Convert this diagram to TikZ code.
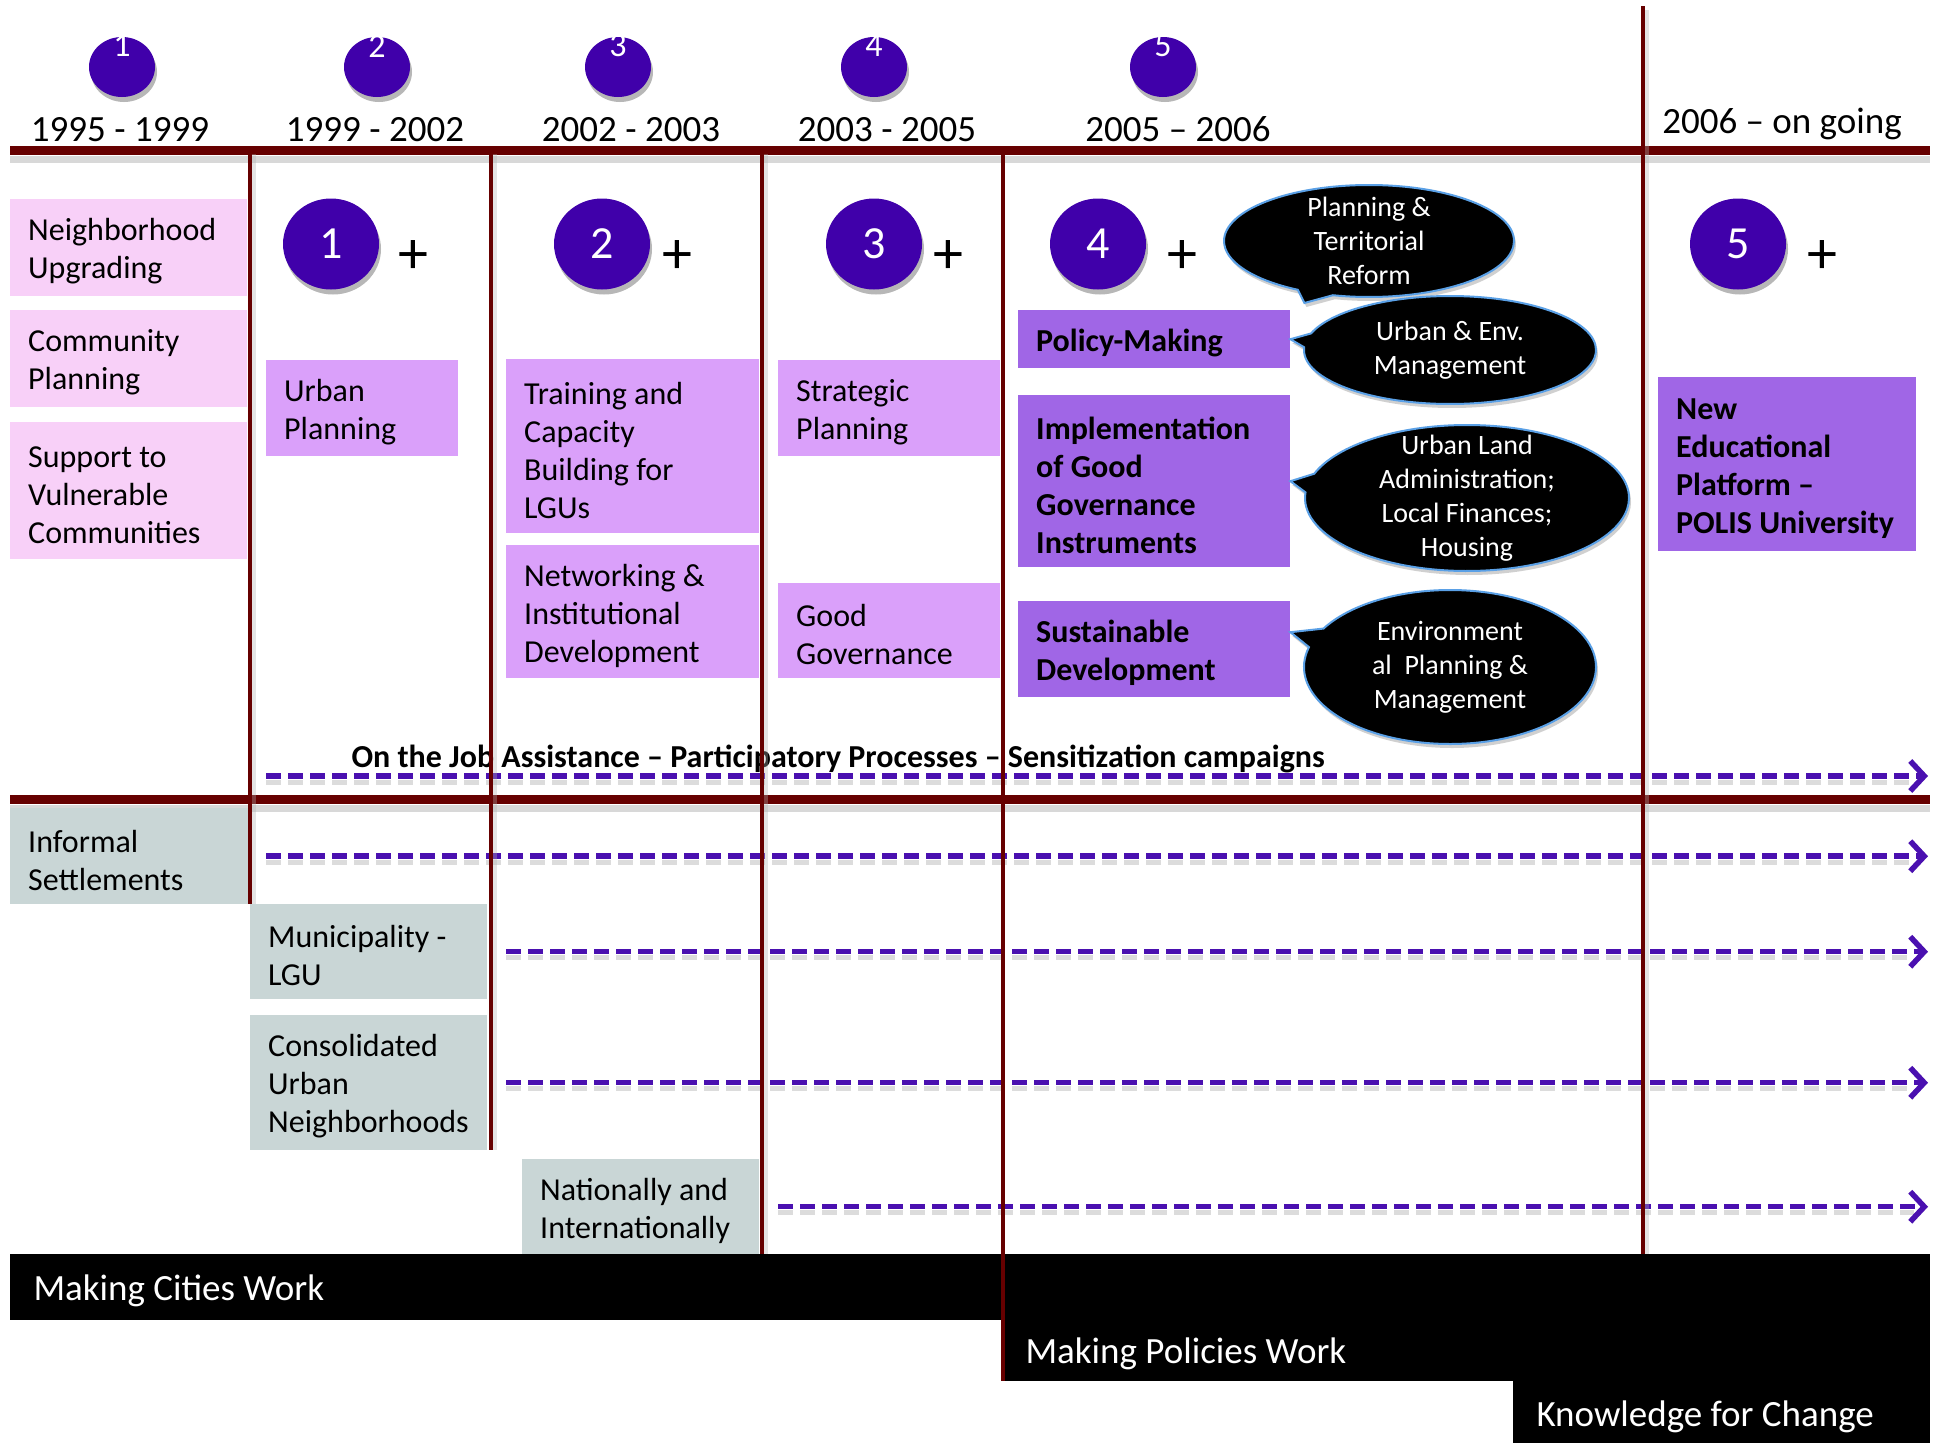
\documentclass[tikz,border=0pt]{standalone}
\usepackage{fontspec}
\setmainfont{Carlito}
\usetikzlibrary{shapes.geometric,shapes.callouts,arrows.meta,shadows}
\definecolor{dred}{RGB}{102,0,0}
\definecolor{circ}{RGB}{64,0,170}
\definecolor{pinkbox}{RGB}{248,208,248}
\definecolor{lilac}{RGB}{218,160,250}
\definecolor{violetbox}{RGB}{160,102,230}
\definecolor{graybox}{RGB}{201,214,214}
\definecolor{dashc}{RGB}{74,16,176}
\definecolor{calloutb}{RGB}{90,160,230}
\begin{document}
\begin{tikzpicture}[x=1pt,y=-1pt,
  bar/.style={draw=dred, line width=9pt},
  barshadow/.style={draw=black!30, line width=7pt, opacity=.5},
  vline/.style={draw=dred, line width=4pt},
  vshadow/.style={draw=black!30, line width=4pt, opacity=.35},
  yearlbl/.style={font=\fontsize{37}{44}\selectfont, anchor=base},
  circshadow/.style={drop shadow={shadow xshift=2pt, shadow yshift=-5pt, opacity=.4, fill=black!70}},
  smallcirc/.style={ellipse, fill=circ, minimum width=66pt, minimum height=60pt, inner sep=0pt, circshadow},
  topdigit/.style={text=white, font=\fontsize{34}{34}\selectfont},
  bigcirc/.style={ellipse, fill=circ, minimum width=96pt, minimum height=91pt, inner sep=0pt, text=white, font=\fontsize{46}{46}\selectfont, circshadow},
  plussign/.style={font=\fontsize{60}{60}\selectfont},
  boxbase/.style={rectangle, anchor=north west, inner xsep=18pt, inner ysep=0pt, align=flush left,
     text height=30pt, font=\fontsize{32}{38}\selectfont},
  pinkb/.style={boxbase, fill=pinkbox},
  lilacb/.style={boxbase, fill=lilac},
  violetb/.style={boxbase, fill=violetbox, font=\fontsize{32}{38}\selectfont\bfseries},
  grayb/.style={boxbase, fill=graybox},
  bubble/.style={ellipse callout, fill=black, draw=calloutb, line width=2pt, inner sep=0pt,
     drop shadow={shadow xshift=2pt, shadow yshift=-4pt, opacity=.3, fill=black!60}},
  bubbletext/.style={text=white, align=center, font=\fontsize{28}{34}\selectfont},
  dasharrow/.style={draw=dashc, line width=5.5pt, dash pattern=on 15pt off 7pt, -{Straight Barb[length=14pt,width=30pt]}},
  dashshadow/.style={draw=black!45, opacity=.3, line width=5pt, dash pattern=on 15pt off 7pt},
  bartext/.style={text=white, anchor=west, font=\fontsize{37}{44}\selectfont}
]
\useasboundingbox (0,0) rectangle (1934,1443);
\fill[white] (0,0) rectangle (1934,1443);

% horizontal bars
\draw[barshadow] (10,159) -- (1930,159);
\draw[barshadow] (10,808) -- (1930,808);
\draw[bar] (10,150) -- (1930,150);
\draw[bar] (10,799) -- (1930,799);

% year labels
\node[yearlbl] (y1) at (120,141) {1995 - 1999};
\node[yearlbl] (y2) at (375,141) {1999 - 2002};
\node[yearlbl] (y3) at (631,141) {2002 - 2003};
\node[yearlbl] (y4) at (887,141) {2003 - 2005};
\node[yearlbl] (y5) at (1178,141) {2005 – 2006};
\node[yearlbl] (y6) at (1782,133) {2006 – on going};

% top small circles
\foreach \x/\n in {122/1,377/2,618/3,874/4,1163/5}{
  \node[smallcirc] (sc\n) at (\x,67) {};
  \node[topdigit] (sd\n) at (\x,46) {\n};
}

% big circles and plus signs
\foreach \x/\p/\n in {331/413/1,602/677/2,874/948/3,1098/1182/4,1738/1822/5}{
  \node[bigcirc] (bc\n) at (\x,244) {\n};
  \node[plussign] (pl\n) at (\p,257) {+};
}

% pink boxes
\node[pinkb, text width=201pt, minimum height=97pt] (nu) at (10,199) {Neighborhood\\Upgrading};
\node[pinkb, text width=201pt, minimum height=97pt] (cp) at (10,310) {Community\\Planning};
\node[pinkb, text width=201pt, minimum height=137pt] (sv) at (10,422) {Support to\\Vulnerable\\Communities};

% lilac boxes
\node[lilacb, text width=156pt, minimum height=96pt] (up) at (266,360) {Urban\\Planning};
\node[lilacb, text width=217pt, minimum height=174pt] (tc) at (506,359) {Training and\\Capacity\\Building for\\LGUs};
\node[lilacb, text width=217pt, minimum height=133pt] (ni) at (506,545) {Networking \&\\Institutional\\Development};
\node[lilacb, text width=186pt, minimum height=96pt] (sp) at (778,360) {Strategic\\Planning};
\node[lilacb, text width=186pt, minimum height=95pt] (gg) at (778,583) {Good\\Governance};

% violet boxes
\node[violetb, text width=236pt, minimum height=58pt] (pm) at (1018,310) {Policy-Making};
\node[violetb, text width=236pt, minimum height=172pt] (ig) at (1018,395) {Implementation\\of Good\\Governance\\Instruments};
\node[violetb, text width=236pt, minimum height=96pt] (sd) at (1018,601) {Sustainable\\Development};
\node[violetb, text width=222pt, minimum height=174pt] (ne) at (1658,377) {New\\Educational\\Platform –\\POLIS University};

% callouts
\node[bubble, minimum width=290pt, minimum height=112pt,
      callout absolute pointer={([xshift=14pt,yshift=7pt]pm.north east)}] (b1) at (1369,241) {};
\node[bubbletext] (b1t) at (b1.center) {Planning \&\\Territorial\\Reform};
\node[bubble, minimum width=292pt, minimum height=108pt,
      callout absolute pointer={(pm.east)}] (b2) at (1450,350) {};
\node[bubbletext] (b2t) at (b2.center) {Urban \& Env.\\Management};
\node[bubble, minimum width=324pt, minimum height=146pt,
      callout absolute pointer={(ig.east)}] (b3) at (1467,498) {};
\node[bubbletext] (b3t) at (b3.center) {Urban Land\\Administration;\\Local Finances;\\Housing};
\node[bubble, minimum width=292pt, minimum height=154pt,
      callout absolute pointer={([yshift=17pt]sd.east)}] (b4) at (1450,667) {};
\node[bubbletext] (b4t) at (b4.center) {Environment\\al\ \ Planning \&\\Management};

% gray boxes
\node[grayb, text width=204pt, minimum height=96pt] (is) at (10,808) {Informal\\Settlements};
\node[grayb, text width=201pt, minimum height=95pt] (ml) at (250,904) {Municipality -\\LGU};
\node[grayb, text width=201pt, minimum height=135pt] (cu) at (250,1015) {Consolidated\\Urban\\Neighborhoods};
\node[grayb, text width=201pt, minimum height=95pt] (na) at (522,1159) {Nationally and\\Internationally};

% dashed arrows
\coordinate (endx) at (1928,0);
\coordinate (oj1s) at (266,776);
\begin{scope}[transform canvas={yshift=-6pt}]
\draw[dashshadow] (oj1s) -- ([xshift=-14pt]oj1s -| endx);
\draw[dashshadow] ([xshift=16pt]is.east) -- ([xshift=-14pt]is.east -| endx);
\draw[dashshadow] ([xshift=19pt]ml.east) -- ([xshift=-14pt]ml.east -| endx);
\draw[dashshadow] ([xshift=19pt]cu.east) -- ([xshift=-14pt]cu.east -| endx);
\draw[dashshadow] ([xshift=19pt]na.east) -- ([xshift=-14pt]na.east -| endx);
\end{scope}
\draw[dasharrow] (oj1s) -- (oj1s -| endx);
\draw[dasharrow] ([xshift=16pt]is.east) -- (is.east -| endx);
\draw[dasharrow] ([xshift=19pt]ml.east) -- (ml.east -| endx);
\draw[dasharrow] ([xshift=19pt]cu.east) -- (cu.east -| endx);
\draw[dasharrow] ([xshift=19pt]na.east) -- (na.east -| endx);

\node[anchor=west, font=\fontsize{32}{36}\selectfont\bfseries] (oj) at (348,759)
  {On the Job Assistance – Participatory Processes – Sensitization campaigns};

% black bars
\fill[black] (10,1254) rectangle (1003,1320);
\fill[black] (1003,1254) rectangle (1930,1381);
\fill[black] (1513,1381) rectangle (1930,1443);
\node[bartext] (mcw) at (30,1291) {Making Cities Work};
\node[bartext] (mpw) at (1022,1354) {Making Policies Work};
\node[bartext] (kfc) at (1533,1417) {Knowledge for Change};

% vertical lines
\draw[vshadow] (254,154) -- (254,904);
\draw[vshadow] (495,154) -- (495,1150);
\draw[vshadow] (766,154) -- (766,1254);
\draw[vshadow] (1647,10) -- (1647,1254);
\draw[vline] (250,150) -- (250,904);
\draw[vline] (491,150) -- (491,1150);
\draw[vline] (762,150) -- (762,1254);
\draw[vline] (1003,150) -- (1003,1381);
\draw[vline] (1643,6) -- (1643,1254);
\end{tikzpicture}
\end{document}
